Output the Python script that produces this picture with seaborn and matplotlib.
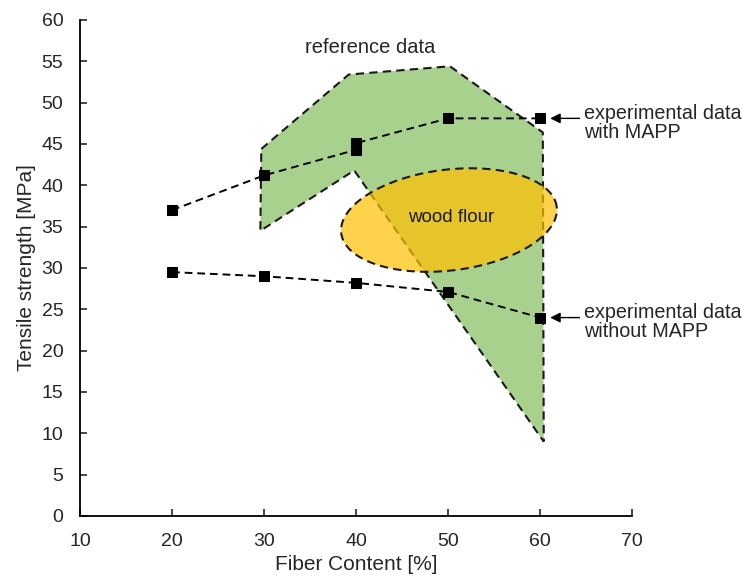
import numpy as np
import pandas as pd
import matplotlib
matplotlib.use("Agg")
import matplotlib.pyplot as plt
import seaborn as sns

# ---- data ----
fiber_mapp = [20, 30, 40, 40, 50, 60]
strength_mapp = [37.0, 41.2, 44.3, 45.1, 48.1, 48.1]
fiber_nomapp = [20, 30, 40, 50, 60]
strength_nomapp = [29.5, 29.0, 28.2, 27.1, 24.0]

ref_x = [29.7, 39.2, 50.2, 60.3, 60.4, 39.8, 29.6]
ref_y = [44.4, 53.4, 54.4, 46.4, 9.0, 41.8, 34.5]

# wood flour ellipse parameters (data units)
ell_cx, ell_cy = 50.1, 35.8
ell_w, ell_h = 23.6, 12.2
ell_angle_px = 7.0

x_ticks = [10, 20, 30, 40, 50, 60, 70]
y_ticks = list(range(0, 61, 5))

sns.set_style("ticks")
plt.rcParams['font.family'] = ['Liberation Sans', 'DejaVu Sans']

fig = plt.figure(figsize=(7.43, 5.81), dpi=100)
ax = fig.add_axes([0.1077, 0.1119, 0.743, 0.8537])
ax.set_xlim(10, 70)
ax.set_ylim(0, 60)

# reference polygon
ax.fill(ref_x, ref_y, facecolor='#a9d18e', edgecolor='#1a1a1a',
        linestyle=(0, (4, 2.5)), linewidth=1.5, zorder=1)

# ellipse (rotation defined in pixel space)
sx, sy = 9.2, 8.27  # px per unit
t = np.linspace(0, 2 * np.pi, 200)
a_px, b_px = ell_w / 2 * sx, ell_h / 2 * sy
th = np.deg2rad(ell_angle_px)
px = a_px * np.cos(t) * np.cos(th) - b_px * np.sin(t) * np.sin(th)
py = a_px * np.cos(t) * np.sin(th) + b_px * np.sin(t) * np.cos(th)
ex = ell_cx + px / sx
ey = ell_cy + py / sy
ax.fill(ex, ey, facecolor='#ffc000', alpha=0.7, edgecolor='none', zorder=2)
ax.plot(ex, ey, color='#1a1a1a', linestyle=(0, (4, 2.5)), linewidth=1.5, zorder=3)
ax.text(ell_cx + 0.2, ell_cy + 0.3, 'wood flour', ha='center', va='center',
        fontsize=13.5, color='#1a1a1a', zorder=6)

df1 = pd.DataFrame({'x': fiber_mapp, 'y': strength_mapp})
df2 = pd.DataFrame({'x': fiber_nomapp, 'y': strength_nomapp})
for df in (df1, df2):
    sns.lineplot(data=df, x='x', y='y', ax=ax, estimator=None, sort=False,
                 color='black', linewidth=1.4, linestyle=(0, (4, 2.5)),
                 marker='s', markersize=7.5, markeredgecolor='black',
                 markerfacecolor='black', zorder=5)

ax.text(41.5, 56.7, 'reference data', ha='center', va='center', fontsize=14.5)

ax.annotate('', xy=(60.8, 48.1), xytext=(64.6, 48.1),
            arrowprops=dict(arrowstyle='-|>', color='black', lw=1.0, mutation_scale=15))
ax.text(64.8, 47.5, 'experimental data\nwith MAPP', ha='left', va='center',
        fontsize=14.2, linespacing=1.0)
ax.annotate('', xy=(60.8, 24.0), xytext=(64.6, 24.0),
            arrowprops=dict(arrowstyle='-|>', color='black', lw=1.0, mutation_scale=15))
ax.text(64.8, 23.5, 'experimental data\nwithout MAPP', ha='left', va='center',
        fontsize=14.2, linespacing=1.0)

ax.set_xticks(x_ticks)
ax.set_yticks(y_ticks)
ax.tick_params(direction='in', length=5, width=1.2, labelsize=14, pad=12)
for s in ['top', 'right']:
    ax.spines[s].set_visible(False)
for s in ['left', 'bottom']:
    ax.spines[s].set_linewidth(1.3)
    ax.spines[s].set_color('black')
ax.set_xlabel('Fiber Content [%]', fontsize=15, labelpad=4)
ax.set_ylabel('Tensile strength [MPa]', fontsize=15, labelpad=4)

fig.savefig('out.png', dpi=100)
